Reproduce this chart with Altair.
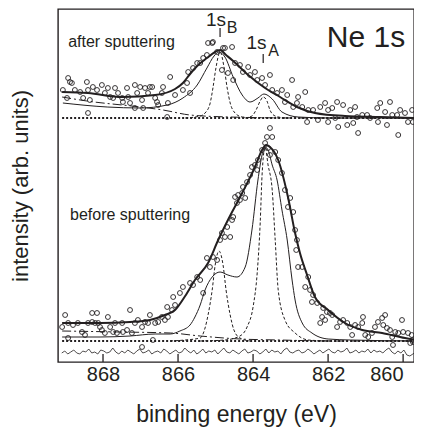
import altair as alt
import pandas as pd

INK = "#231f20"
FONT = "Liberation Sans"

# ---------------- tick positions ----------------
tick_E = [868, 866, 864, 862, 860]

# ---------------- AFTER sputtering (upper spectrum) ----------------
after_pts_E = [868.93, 868.88, 868.83, 869.07, 868.96, 868.75, 868.61, 868.43, 868.40, 868.53,
               868.35, 868.27, 868.16, 868.03, 867.95, 867.87, 867.81, 867.68, 867.73, 867.60,
               867.49, 867.47, 867.36, 867.33, 867.28, 867.15, 867.09, 867.01, 866.96, 866.88,
               866.80, 866.75, 866.69, 866.61, 866.56, 866.53, 866.43, 866.40, 866.27, 866.21,
               868.40, 867.15, 866.93, 866.29, 866.08, 865.87, 865.68, 865.76, 865.73, 865.60,
               865.49, 865.41, 865.33, 865.23, 865.20, 865.09, 865.07, 864.96, 864.80, 864.75,
               864.56, 864.83, 864.67, 864.53, 864.48, 864.35, 864.13, 863.95, 864.27, 864.08,
               863.89, 863.76, 863.55, 863.68, 863.49, 863.36, 863.23, 863.09, 863.15, 862.96,
               862.93, 862.83, 863.55, 863.49, 863.63, 862.61, 862.80, 862.69, 862.53, 862.56,
               862.40, 862.21, 862.08, 862.00, 861.89, 861.76, 861.60, 861.41, 861.28, 861.73,
               861.49, 861.33, 861.20, 861.09, 860.96, 860.88, 860.69, 860.61, 860.35, 860.48,
               860.29, 860.16, 860.67, 860.43, 860.13, 860.08, 859.95, 859.76, 859.87, 859.74,
               861.23, 861.81, 862.27, 862.00]
after_pts_I = [284, 280, 279, 272, 264, 272, 270, 280, 272, 264,
               262, 275, 272, 277, 269, 274, 265, 274, 264, 269,
               264, 260, 274, 265, 259, 277, 269, 275, 262, 274,
               269, 275, 275, 264, 260, 257, 269, 275, 259, 285,
               249, 254, 254, 245, 267, 272, 269, 279, 290, 294,
               299, 299, 304, 307, 319, 319, 320, 310, 314, 314,
               315, 292, 289, 282, 299, 297, 295, 290, 290, 287,
               282, 284, 287, 277, 272, 269, 272, 267, 260, 282,
               255, 259, 234, 225, 225, 270, 265, 255, 252, 240,
               252, 255, 259, 252, 254, 260, 257, 252, 255, 235,
               237, 239, 229, 247, 247, 244, 254, 259, 260, 250,
               247, 247, 240, 237, 227, 252, 249, 252, 240, 240,
               245, 244, 242, 240]

after_env_E = [869.09, 868.40, 867.49, 866.61, 866.08, 865.87, 865.68, 865.49, 865.23, 865.01,
               864.88, 864.72, 864.53, 864.13, 863.68, 863.28, 862.83, 862.35, 861.55, 860.61, 859.60]
after_env_I = [270, 269, 265, 267, 273, 279, 288, 296, 304, 310,
               312, 307, 301, 287, 274, 265, 255, 249, 246, 245, 244]

after_sum_E = [869.07, 867.89, 867.01, 866.29, 865.87, 865.49, 865.23, 865.04, 864.91, 864.75,
               864.53, 864.29, 864.08, 863.87, 863.71, 863.49, 863.23, 862.80, 861.95, 859.60]
after_sum_I = [259, 255, 254, 257, 264, 277, 294, 306, 310, 305,
               285, 267, 260, 264, 268, 263, 250, 245, 244, 244]

after_B_E = [865.81, 865.41, 865.28, 865.15, 865.07, 864.99, 864.88, 864.77, 864.69, 864.61,
             864.48, 864.29, 863.95]
after_B_I = [244, 246, 249, 258, 274, 294, 310, 294, 274, 259, 249, 245, 244]

after_A_E = [864.21, 864.03, 863.92, 863.81, 863.73, 863.63, 863.55, 863.41, 863.15]
after_A_I = [244, 246, 252, 261, 265, 261, 252, 246, 244]

after_broad_E = [869.09, 868.43, 867.01, 866.40, 865.68, 864.61, 862.75, 859.60]
after_broad_I = [265, 261, 255, 252, 247, 245, 244, 244]

after_base_E = [869.09, 859.60]
after_base_I = [244, 244]

# ---------------- BEFORE sputtering (lower spectrum) ----------------
before_pts_E = [869.01, 869.09, 868.93, 868.80, 868.67, 868.93, 868.56, 868.48, 868.40, 868.29,
                868.21, 868.29, 868.16, 868.13, 868.08, 868.03, 867.95, 867.87, 867.81, 867.73,
                867.63, 867.68, 867.49, 867.47, 867.36, 867.28, 867.23, 867.15, 867.07, 866.96,
                866.88, 866.80, 866.75, 866.67, 866.61, 866.53, 866.43, 866.35, 866.27, 866.29,
                866.16, 866.08, 866.13, 866.96, 865.95, 865.87, 865.68, 865.60, 865.41, 865.49,
                865.33, 865.15, 865.07, 864.96, 865.23, 864.88, 864.75, 864.61, 864.83, 864.69,
                864.56, 864.53, 864.43, 864.40, 864.48, 864.35, 864.29, 864.21, 864.27, 864.16,
                864.08, 864.03, 863.95, 863.89, 863.87, 863.76, 863.68, 863.60, 863.55, 863.41,
                863.33, 863.23, 863.15, 863.01, 863.07, 862.93, 862.88, 862.83, 862.80, 862.69,
                862.53, 862.61, 862.48, 862.40, 862.43, 862.29, 862.13, 862.03, 861.95, 862.16,
                862.21, 862.08, 861.89, 861.76, 861.68, 861.60, 861.49, 861.41, 861.36, 861.28,
                861.20, 861.09, 861.07, 861.01, 860.93, 860.83, 860.75, 860.67, 860.56, 860.48,
                860.53, 860.43, 860.35, 860.29, 860.21, 860.13, 860.03, 860.00, 859.87, 859.77,
                859.75, 859.74, 859.81, 860.27, 862.85]
before_pts_I = [47, 35, 39, 37, 39, 24, 30, 27, 39, 40,
                39, 49, 49, 39, 35, 32, 29, 45, 35, 30,
                29, 39, 39, 30, 32, 52, 29, 39, 42, 35,
                40, 39, 47, 22, 39, 40, 45, 42, 45, 55,
                52, 57, 65, 15, 69, 75, 79, 77, 82, 85,
                69, 95, 105, 102, 104, 122, 125, 125, 129, 135,
                142, 145, 159, 167, 165, 162, 169, 164, 175, 180,
                187, 195, 197, 192, 202, 212, 219, 214, 207, 210,
                202, 189, 172, 164, 155, 150, 132, 122, 95, 95,
                85, 75, 72, 67, 60, 59, 54, 50, 49, 45,
                39, 42, 47, 35, 40, 42, 39, 35, 27, 37,
                35, 39, 45, 27, 25, 29, 35, 40, 44, 47,
                37, 34, 32, 25, 30, 29, 42, 30, 29, 27,
                22, 20, 19, 17, 112]

before_env_E = [869.09, 868.08, 867.28, 866.75, 866.35, 866.08, 865.81, 865.55, 865.20, 864.93,
                864.67, 864.29, 863.95, 863.76, 863.65, 863.55, 863.33, 863.07, 862.88, 862.75,
                862.56, 862.35, 862.00, 861.55, 861.09, 860.56, 859.95, 859.60]
before_env_I = [39, 39, 40, 42, 47, 52, 66, 82, 99, 122,
                142, 169, 195, 212, 217, 215, 202, 165, 129, 109,
                87, 65, 52, 39, 32, 29, 24, 22]

before_sum_E = [869.09, 868.08, 867.28, 866.61, 866.21, 865.95, 865.68, 865.55, 865.41, 865.28,
                865.09, 864.88, 864.67, 864.43, 864.21, 864.03, 863.87, 863.76, 863.68, 863.60,
                863.49, 863.36, 863.23, 863.09, 862.96, 862.88, 862.69, 862.43, 862.00, 861.41, 859.60]
before_sum_I = [25, 25, 26, 28, 28, 31, 37, 45, 57, 72,
                85, 90, 87, 85, 95, 132, 182, 207, 215, 212,
                197, 182, 152, 122, 82, 62, 39, 29, 23, 22, 21]

before_B_E = [866.21, 865.81, 865.41, 865.28, 865.20, 865.09, 865.01, 864.91, 864.80, 864.72,
              864.61, 864.51, 864.35, 864.08]
before_B_I = [21, 22, 24, 34, 47, 72, 97, 111, 97, 72, 47, 32, 24, 21]

before_A_E = [865.41, 864.75, 864.35, 864.16, 864.00, 863.89, 863.81, 863.76, 863.68, 863.60,
              863.49, 863.41, 863.33, 863.15, 862.88, 862.53, 861.95]
before_A_I = [21, 22, 26, 35, 55, 89, 139, 187, 215, 197,
              172, 122, 72, 42, 29, 22, 21]

before_broad_E = [869.09, 867.55, 866.21, 865.41, 864.35, 863.28, 861.95, 859.60]
before_broad_I = [31, 30, 29, 26, 23, 22, 21, 21]

before_base_E = [869.09, 859.60]
before_base_I = [21, 21]

# residual trace below the lower spectrum
resid_E = [869.10, 869.02,
           868.94, 868.86, 868.78, 868.70, 868.62, 868.54, 868.46, 868.38, 868.30, 868.22, 868.14, 868.06,
           867.98, 867.90, 867.82, 867.74, 867.66, 867.58, 867.50, 867.42, 867.34, 867.26, 867.18, 867.10, 867.02,
           866.94, 866.86, 866.78, 866.70, 866.62, 866.54, 866.46, 866.38, 866.30, 866.22, 866.14, 866.06,
           865.98, 865.90, 865.82, 865.74, 865.66, 865.58, 865.50, 865.42, 865.34, 865.26, 865.18, 865.10, 865.02,
           864.94, 864.86, 864.78, 864.70, 864.62, 864.54, 864.46, 864.38, 864.30, 864.22, 864.14, 864.06,
           863.98, 863.90, 863.82, 863.74, 863.66, 863.58, 863.50, 863.42, 863.34, 863.26, 863.18, 863.10, 863.02,
           862.94, 862.86, 862.78, 862.70, 862.62, 862.54, 862.46, 862.38, 862.30, 862.22, 862.14, 862.06,
           861.98, 861.90, 861.82, 861.74, 861.66, 861.58, 861.50, 861.42, 861.34, 861.26, 861.18, 861.10, 861.02,
           860.94, 860.86, 860.78, 860.70, 860.62, 860.54, 860.46, 860.38, 860.30, 860.22, 860.14, 860.06,
           859.98, 859.90, 859.82, 859.74, 859.66, 859.58]
resid_I = [9, 11, 8, 10, 12, 9, 8, 11, 10, 13, 9, 10, 8, 12, 11, 9, 10, 14, 10, 8,
           11, 9, 12, 10, 8, 11, 13, 9, 10, 12, 8, 10, 11, 9, 13, 11, 8, 10, 12, 9,
           10, 14, 11, 9, 12, 8, 10, 13, 9, 11, 10, 12, 8, 11, 14, 10, 9, 12, 10, 8,
           11, 13, 9, 10, 12, 11, 8, 10, 13, 9, 12, 10, 11, 8, 12, 14, 10, 9, 11, 12,
           9, 10, 13, 11, 8, 10, 12, 9, 11, 13, 10, 9, 12, 10, 11, 14, 9, 10, 12, 9,
           11, 10, 13, 9, 12, 10, 11, 9, 12, 14, 10, 8, 11, 9, 12, 7, 6, 8, 10, 9]

# ---------------- text ----------------
labels = [
    {"E": 860.99, "I": 315, "t": "Ne 1s", "size": 30, "align": "center"},
    {"E": 868.93, "I": 315, "t": "after sputtering", "size": 16, "align": "left"},
    {"E": 868.88, "I": 142, "t": "before sputtering", "size": 16, "align": "left"},
    {"E": 864.99, "I": 336, "t": "1s", "size": 19, "align": "center"},
    {"E": 864.56, "I": 329, "t": "B", "size": 16, "align": "center"},
    {"E": 863.91, "I": 313, "t": "1s", "size": 19, "align": "center"},
    {"E": 863.45, "I": 306, "t": "A", "size": 16, "align": "center"},
]
mark_E = [864.88, 863.73]
mark_I0 = [325, 299]
mark_I1 = [334, 308]

# ---------------- chart ----------------
xs = alt.Scale(domain=[869.2, 859.71], nice=False, zero=False)
ys = alt.Scale(domain=[0, 353], nice=False, zero=False)
xaxis = alt.Axis(title="binding energy (eV)", values=tick_E, format="d", grid=False, domain=False,
                 ticks=False, labelFontSize=20, labelPadding=2, labelFont=FONT, labelColor=INK,
                 labelFlush=14, labelBound=False,
                 titleFont=FONT, titleFontSize=23, titleFontWeight="normal", titleColor=INK,
                 titlePadding=19)
yaxis = alt.Axis(title="intensity (arb. units)", labels=False, ticks=False, domain=False, grid=False,
                 titleFont=FONT, titleFontSize=22, titleFontWeight="normal", titleColor=INK,
                 titlePadding=26)
X = alt.X("E:Q", scale=xs, axis=xaxis)
Y = alt.Y("I:Q", scale=ys, axis=yaxis)


def line(E, I, width, dash=None, interp="monotone"):
    kw = dict(color=INK, strokeWidth=width, interpolate=interp, clip=True)
    if dash is not None:
        kw["strokeDash"] = dash
    return alt.Chart(pd.DataFrame({"E": E, "I": I})).mark_line(**kw).encode(x=X, y=Y)


def points(E, I):
    return alt.Chart(pd.DataFrame({"E": E, "I": I})).mark_point(
        shape="circle", filled=False, size=24, strokeWidth=0.9, color=INK, opacity=1
    ).encode(x=X, y=Y)


ticks = alt.Chart(pd.DataFrame({"E": tick_E, "I": [0] * 5, "I2": [8] * 5})).mark_rule(
    color=INK, strokeWidth=1.3).encode(x=X, y=Y, y2="I2:Q")

marks = alt.Chart(pd.DataFrame({"E": mark_E, "I": mark_I0, "I2": mark_I1})).mark_rule(
    color=INK, strokeWidth=1.2).encode(x=X, y=Y, y2="I2:Q")

text_layers = []
for lab in labels:
    text_layers.append(
        alt.Chart(pd.DataFrame([lab])).mark_text(
            font=FONT, fontSize=lab["size"], align=lab["align"], baseline="alphabetic", color=INK
        ).encode(x=X, y=Y, text="t:N")
    )

layers = [
    ticks,
    line(resid_E, resid_I, 0.8, interp="linear"),
    line(before_base_E, before_base_I, 1.8, [2, 2]),
    line(after_base_E, after_base_I, 1.8, [2, 2]),
    line(before_broad_E, before_broad_I, 1.0, [9, 3, 2, 3]),
    line(after_broad_E, after_broad_I, 1.0, [9, 3, 2, 3]),
    line(before_B_E, before_B_I, 1.0, [3, 2]),
    line(before_A_E, before_A_I, 1.0, [3, 2]),
    line(after_B_E, after_B_I, 1.0, [3, 2]),
    line(after_A_E, after_A_I, 1.0, [3, 2]),
    line(before_sum_E, before_sum_I, 1.0),
    line(after_sum_E, after_sum_I, 1.0),
    points(before_pts_E, before_pts_I),
    points(after_pts_E, after_pts_I),
    line(before_env_E, before_env_I, 2.0),
    line(after_env_E, after_env_I, 2.0),
    marks,
] + text_layers

chart = alt.layer(*layers).properties(
    width=356, height=353,
    padding={"left": 50, "top": 1, "right": 0, "bottom": 70},
    autosize=alt.AutoSizeParams(type="none"),
).configure_view(stroke=INK, strokeWidth=1.4)

chart.save("out.html", embed_options={"renderer": "svg", "actions": False})
